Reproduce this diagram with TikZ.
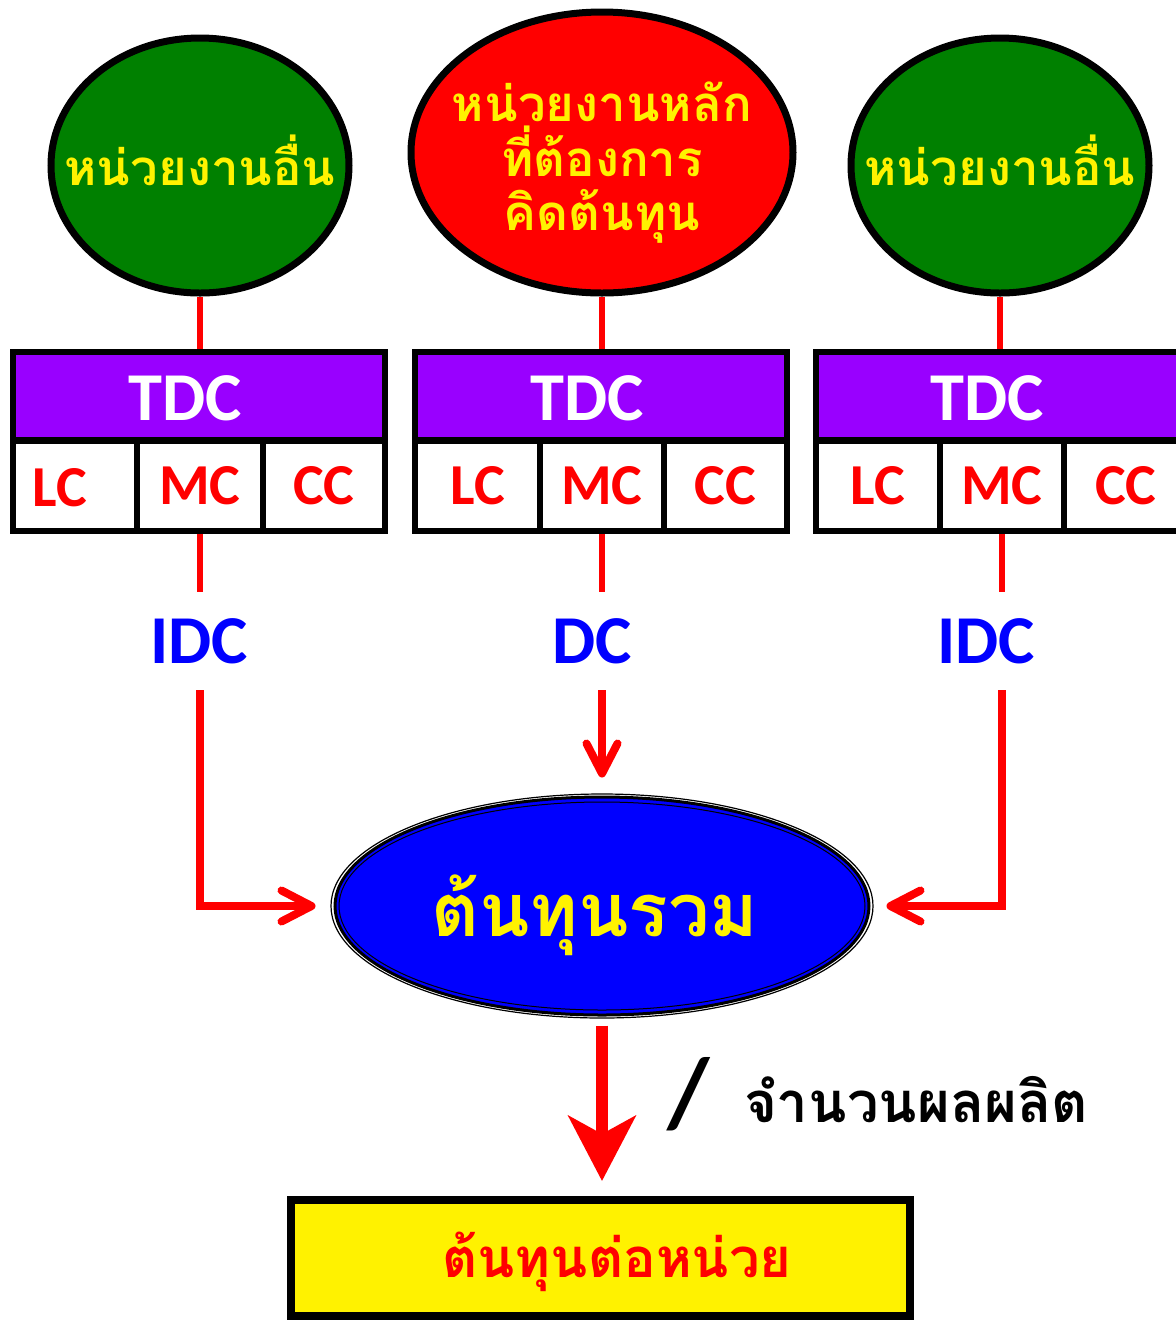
\documentclass[tikz,border=0pt]{standalone}
\usepackage{fontspec}
\usetikzlibrary{arrows.meta,shapes.geometric}
\setmainfont{Carlito}
\newfontfamily\thaifont[Script=Thai]{Loma}
\newcommand\pxl{0.02cm}
\definecolor{tdcpurple}{RGB}{153,0,255}
\definecolor{unitgreen}{RGB}{0,128,0}
\tikzset{
  unitell/.style={ellipse, draw=black, line width=7*\pxl, inner sep=0pt},
  thaiyellow/.style={text=yellow, font=\thaifont\bfseries\fontsize{28}{31}\selectfont, align=center, inner sep=0pt},
  tdcbox/.style={rectangle, draw=black, fill=tdcpurple, line width=6*\pxl, inner sep=0pt, minimum width=372*\pxl, minimum height=88*\pxl},
  tdctext/.style={text=white, font=\bfseries\fontsize{39}{45}\selectfont, inner sep=0pt},
  celltext/.style={text=red, font=\bfseries\fontsize{33}{40}\selectfont},
  cellbox/.style={rectangle, draw=black, fill=white, line width=6*\pxl, inner sep=0pt, minimum height=90*\pxl, celltext},
  costlabel/.style={text=blue, font=\bfseries\fontsize{39}{45}\selectfont, inner sep=0pt, minimum height=98*\pxl},
  redline/.style={draw=red, line width=8*\pxl},
  thinred/.style={draw=red, line width=6*\pxl},
  barb/.style={-{Straight Barb[length=0.6cm,width=0.62cm,line cap=round,line join=round]}},
}
\begin{document}
\begin{tikzpicture}[x=0.02cm,y=-0.02cm]
\useasboundingbox (0,0) rectangle (1176,1320);
\clip (0,0) rectangle (1176,1320);

% top ellipses
\node[unitell, fill=unitgreen, minimum width=298*\pxl, minimum height=255*\pxl] (gl) at (200,165.5) {};
\node[thaiyellow] (gltext) at (200,160) {หน่วยงานอื่น};
\node[unitell, fill=red, minimum width=382*\pxl, minimum height=281*\pxl] (rm) at (602,152.5) {};
\node[thaiyellow] (rmtext) at (602,163) {หน่วยงานหลัก\\ที่ต้องการ\\คิดต้นทุน};
\node[unitell, fill=unitgreen, minimum width=298*\pxl, minimum height=255*\pxl] (gr) at (1000,165.5) {};
\node[thaiyellow] (grtext) at (1000,160) {หน่วยงานอื่น};

% cost component cells
\node[cellbox, minimum width=124*\pxl] (lcL) at (75,486) {};
\node[celltext, inner sep=0pt] (lcLt) at (60,488) {LC};
\node[cellbox, minimum width=126*\pxl] (mcL) at (200,486) {MC};
\node[cellbox, minimum width=122*\pxl] (ccL) at (324,486) {CC};

\node[cellbox, minimum width=125*\pxl] (lcM) at (477.5,486) {LC};
\node[cellbox, minimum width=124*\pxl] (mcM) at (602,486) {MC};
\node[cellbox, minimum width=123*\pxl] (ccM) at (725.5,486) {CC};

\node[cellbox, minimum width=124*\pxl] (lcR) at (878,486) {LC};
\node[cellbox, minimum width=124*\pxl] (mcR) at (1002,486) {MC};
\node[cellbox, minimum width=124*\pxl] (ccR) at (1126,486) {CC};

% TDC boxes
\node[tdcbox] (tdcL) at (199,396) {};
\node[tdctext] (tdcLt) at (185,398) {TDC};
\node[tdcbox] (tdcM) at (601,396) {};
\node[tdctext] (tdcMt) at (587,398) {TDC};
\node[tdcbox] (tdcR) at (1002,396) {};
\node[tdctext] (tdcRt) at (987,398) {TDC};

% links ellipse -> TDC
\draw[thinred] (gl.south) -- (gl.south |- tdcL.north);
\draw[thinred] (rm.south) -- (rm.south |- tdcM.north);
\draw[thinred] (gr.south) -- (gr.south |- tdcR.north);

% cost labels
\node[costlabel] (idcL) at (199,641) {IDC};
\node[costlabel] (dc) at (592,641) {DC};
\node[costlabel] (idcR) at (986,641) {IDC};

% total
\node[ellipse, draw=black, fill=blue, line width=3*\pxl, inner sep=0pt, minimum width=534*\pxl, minimum height=218*\pxl] (total) at (602,906) {};
\draw[black, line width=1.2*\pxl] (total.center) ellipse [x radius=271, y radius=112];
\draw[black, line width=1*\pxl] (total.center) ellipse [x radius=263, y radius=104];
\node[text=yellow, font=\thaifont\bfseries\fontsize{42}{48}\selectfont, inner sep=0pt] (totaltext) at (595,915) {ต้นทุนรวม};

\draw[thinred] (mcL.south) -- (mcL.south |- idcL.north);
\draw[thinred] (mcM.south) -- (mcM.south |- dc.north);
\draw[thinred] (mcR.south) -- (mcR.south |- idcR.north);

\draw[redline, barb, shorten >=0.36cm] (idcL.south -| mcL.south) |- (total.west);
\draw[redline, barb, shorten >=0.36cm] (dc.south -| mcM.south) -- (total.north);
\draw[redline, barb, shorten >=0.32cm] (idcR.south -| mcR.south) |- (total.east);

% unit cost
\node[rectangle, draw=black, fill=yellow, line width=8*\pxl, inner sep=0pt, minimum width=619*\pxl, minimum height=116*\pxl] (unit) at (600.5,1258) {};
\node[text=red, font=\thaifont\bfseries\fontsize{31}{36}\selectfont, inner sep=0pt] (unittext) at (617,1262) {ต้นทุนต่อหน่วย};

\draw[red, line width=12*\pxl, -{Stealth[length=1.3cm,width=1.34cm,inset=0.36cm]}, shorten <=0.18cm, shorten >=0.3cm] (total.south) -- (total.south |- unit.north);

\node[text=black, font=\bfseries\fontsize{56}{60}\selectfont, inner sep=0pt] (slash) at (689,1094) {/};
\node[text=black, font=\thaifont\bfseries\fontsize{32}{36}\selectfont, inner sep=0pt] (perunits) at (916,1100) {จำนวนผลผลิต};
\end{tikzpicture}
\end{document}
